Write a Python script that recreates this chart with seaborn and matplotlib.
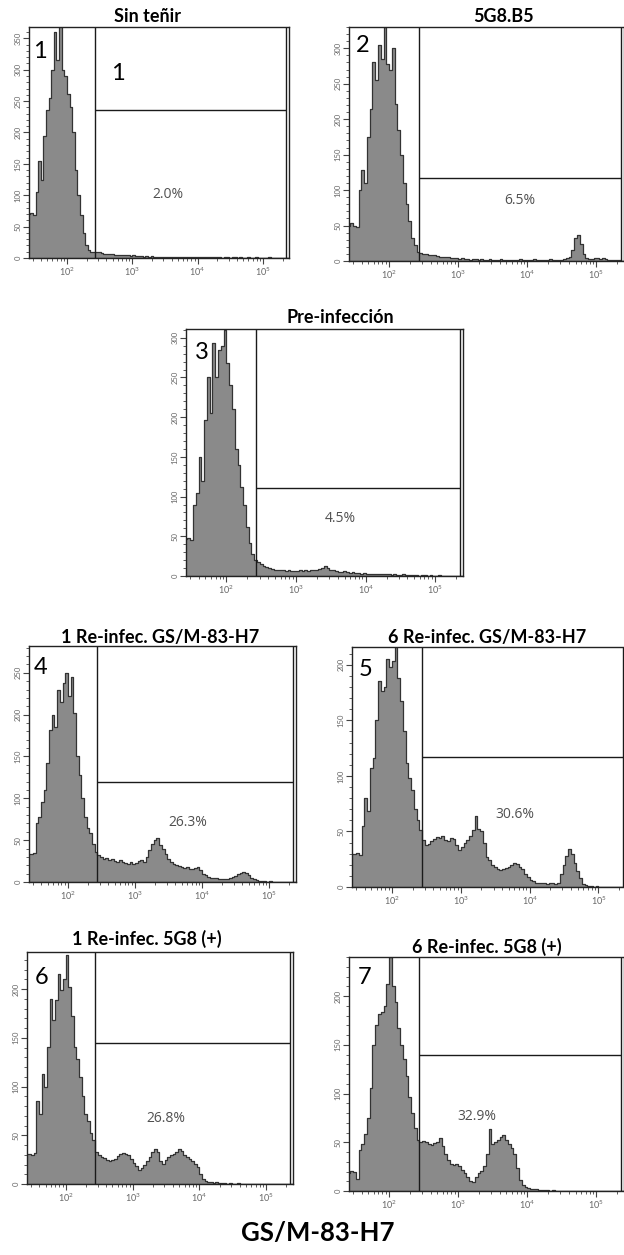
import numpy as np
import matplotlib
matplotlib.use('Agg')  # no display
import matplotlib.pyplot as plt
import matplotlib.ticker as mticker
import seaborn as sns

W, H = 624, 1255

# histogram grid on the log10 axis: 100 bins of 0.04 decade, 10^1.40 .. 10^5.40
BIN_START, BIN_WIDTH, N_BINS = 1.40, 0.04, 100
log_centers = BIN_START + BIN_WIDTH * (np.arange(N_BINS) + 0.5)

titles = ["Sin teñir", "5G8.B5", "Pre-infección",
          "1 Re-infec. GS/M-83-H7", "6 Re-infec. GS/M-83-H7",
          "1 Re-infec. 5G8 (+)", "6 Re-infec. 5G8 (+)"]
panel_numbers = ["1", "2", "3", "4", "5", "6", "7"]
percents = ["2.0%", "6.5%", "4.5%", "26.3%", "30.6%", "26.8%", "32.9%"]
y_max = [368, 330, 311, 282, 216, 238, 240]
gate_heights = [236, 117, 111, 120, 117, 145, 140]
gate_log = (2.43, 5.36)

# event counts per bin (rows of 10 bins = 0.4 decade)
counts_sin_tenir = [
    70, 72, 68, 105, 155, 125, 195, 235, 255, 300,
    360, 315, 372, 300, 290, 262, 240, 200, 140, 100,
    68, 40, 20, 13, 10, 9, 10, 9, 8, 7,
    7, 6, 6, 5, 5, 4, 5, 4, 4, 3,
    4, 3, 3, 3, 2, 3, 2, 3, 2, 2,
    2, 2, 2, 1, 2, 2, 1, 2, 1, 1,
    2, 1, 1, 1, 1, 1, 2, 1, 1, 1,
    1, 1, 1, 1, 0, 1, 1, 0, 1, 1,
    0, 1, 0, 0, 1, 0, 0, 1, 0, 0,
    0, 0, 1, 0, 0, 0, 0, 0, 0, 0]
counts_5g8b5 = [
    50, 53, 50, 48, 100, 128, 110, 175, 215, 280,
    255, 305, 285, 330, 278, 270, 300, 222, 185, 150,
    110, 80, 56, 33, 22, 13, 11, 10, 10, 9,
    9, 8, 7, 6, 6, 5, 5, 4, 4, 4,
    3, 4, 3, 3, 2, 3, 3, 2, 3, 2,
    2, 3, 2, 2, 2, 3, 2, 2, 2, 2,
    2, 2, 3, 2, 2, 2, 2, 3, 2, 2,
    2, 2, 2, 3, 2, 2, 2, 2, 3, 4,
    6, 16, 32, 36, 24, 10, 4, 3, 3, 4,
    4, 3, 4, 3, 2, 2, 1, 1, 1, 0]
counts_pre = [
    47, 48, 45, 90, 105, 150, 120, 196, 250, 205,
    294, 250, 285, 290, 310, 268, 240, 210, 160, 140,
    112, 90, 62, 42, 28, 20, 17, 15, 13, 11,
    10, 9, 8, 8, 7, 7, 6, 7, 6, 6,
    6, 7, 6, 7, 6, 7, 8, 8, 9, 10,
    12, 10, 8, 7, 6, 5, 5, 6, 5, 4,
    5, 4, 4, 3, 4, 3, 3, 2, 3, 2,
    2, 3, 2, 2, 1, 2, 1, 1, 2, 1,
    1, 1, 1, 1, 0, 1, 1, 0, 1, 0,
    0, 1, 0, 0, 0, 0, 0, 0, 0, 0]
counts_1_gsm = [
    34, 34, 35, 70, 78, 95, 110, 142, 182, 200,
    185, 230, 215, 238, 250, 222, 245, 202, 150, 128,
    100, 78, 65, 58, 46, 36, 32, 30, 28, 29,
    26, 27, 25, 24, 26, 24, 23, 22, 24, 22,
    23, 25, 26, 24, 30, 38, 45, 50, 52, 44,
    40, 34, 28, 24, 22, 20, 19, 18, 17, 18,
    16, 15, 17, 18, 14, 10, 8, 6, 5, 5,
    5, 4, 4, 4, 4, 5, 6, 7, 9, 11,
    12, 11, 8, 5, 3, 2, 1, 1, 1, 0,
    1, 0, 0, 0, 0, 0, 0, 0, 0, 0]
counts_6_gsm = [
    30, 30, 31, 29, 55, 80, 68, 107, 116, 150,
    185, 176, 180, 205, 198, 203, 216, 188, 167, 140,
    112, 98, 87, 70, 60, 51, 42, 38, 39, 41,
    43, 45, 44, 46, 42, 41, 44, 43, 38, 33,
    36, 40, 42, 46, 51, 64, 52, 50, 40, 27,
    24, 20, 18, 16, 15, 16, 17, 18, 20, 22,
    21, 18, 16, 12, 9, 6, 5, 4, 4, 4,
    4, 3, 4, 4, 3, 4, 12, 20, 28, 34,
    30, 22, 14, 8, 3, 2, 1, 1, 0, 1,
    0, 0, 0, 0, 0, 0, 0, 0, 0, 0]
counts_1_5g8 = [
    31, 31, 30, 32, 85, 72, 113, 100, 141, 190,
    168, 189, 215, 199, 210, 235, 202, 172, 141, 128,
    110, 90, 72, 65, 52, 45, 33, 30, 28, 27,
    25, 24, 25, 26, 29, 31, 32, 31, 30, 26,
    22, 18, 14, 16, 20, 24, 28, 33, 36, 33,
    24, 21, 25, 28, 30, 31, 33, 36, 34, 30,
    28, 26, 24, 21, 17, 10, 5, 3, 2, 2,
    1, 2, 1, 1, 1, 0, 1, 0, 0, 1,
    0, 0, 0, 0, 0, 0, 0, 0, 0, 0,
    0, 0, 0, 0, 0, 0, 0, 0, 0, 0]
counts_6_5g8 = [
    18, 20, 19, 12, 42, 48, 58, 75, 106, 150,
    170, 182, 184, 190, 212, 240, 210, 194, 167, 150,
    135, 118, 96, 80, 65, 52, 50, 51, 50, 48,
    47, 49, 50, 54, 46, 38, 32, 28, 27, 28,
    26, 22, 18, 14, 10, 9, 14, 18, 21, 26,
    38, 64, 48, 50, 52, 55, 57, 52, 48, 44,
    38, 24, 11, 6, 4, 3, 2, 2, 2, 1,
    1, 1, 1, 0, 1, 0, 0, 0, 0, 0,
    0, 0, 0, 0, 0, 0, 0, 0, 0, 0,
    0, 0, 0, 0, 0, 0, 0, 0, 0, 0]
all_counts = [counts_sin_tenir, counts_5g8b5, counts_pre, counts_1_gsm,
              counts_6_gsm, counts_1_5g8, counts_6_5g8]

# layout in pixels: left, top, right, bottom of each plot box
boxes = [(29, 27, 289, 258), (349, 27, 624, 261), (186, 329, 463, 576),
         (29, 646, 296, 882), (352, 647, 626, 887),
         (27, 952, 293, 1184), (349, 957, 624, 1191)]
title_pos = [(148, 16), (503, 17), (340, 318), (160, 638), (487, 638),
             (147, 939), (487, 947)]
number_pos = [(40, 52), (363, 45), (202, 353), (41, 668), (366, 670),
              (42, 978), (365, 977)]
percent_pos = [(168, 194), (520, 200), (340, 519), (188, 823), (515, 815),
               (166, 1118), (477, 1116)]


def px(x, y):
    return x / W, 1 - y / H


sns.set_style("ticks")
plt.rcParams['font.family'] = ['Lato', 'DejaVu Sans']

fig = plt.figure(figsize=(W / 100, H / 100), dpi=100)

for i in range(7):
    l, t, r, b = boxes[i]
    ax = fig.add_axes([l / W, 1 - b / H, (r - l) / W, (b - t) / H])
    sns.histplot(x=10 ** log_centers, weights=all_counts[i],
                 binwidth=BIN_WIDTH, binrange=(BIN_START, BIN_START + BIN_WIDTH * N_BINS),
                 log_scale=True, element="step", fill=True,
                 color="#8a8a8a", alpha=1, edgecolor="#333333", linewidth=0.9, ax=ax)
    ax.set_xlim(10 ** 1.42, 10 ** 5.40)
    ax.set_ylim(0, y_max[i])
    ax.set_xlabel("")
    ax.set_ylabel("")

    # gate bracket
    g0, g1 = 10 ** gate_log[0], 10 ** gate_log[1]
    ax.axvline(g0, color="#1a1a1a", lw=1)
    ax.axvline(g1, color="#1a1a1a", lw=1)
    ax.hlines(gate_heights[i], g0, g1, color="#1a1a1a", lw=1)

    ax.set_xticks([1e2, 1e3, 1e4, 1e5])
    ax.xaxis.set_minor_locator(mticker.LogLocator(base=10, subs=np.arange(2, 10)))
    ax.xaxis.set_minor_formatter(mticker.NullFormatter())
    ax.yaxis.set_major_locator(mticker.MultipleLocator(50))
    ax.yaxis.set_minor_locator(mticker.MultipleLocator(10))
    ax.tick_params(axis="x", which="major", length=4, width=0.8, color="#444444",
                   labelsize=6.5, labelcolor="#666666", pad=1.5)
    ax.tick_params(axis="y", which="major", length=4, width=0.8, color="#444444",
                   labelsize=5.5, labelcolor="#666666", pad=1.5)
    ax.tick_params(which="minor", length=2, width=0.6, color="#444444")
    for lab in ax.get_yticklabels():
        lab.set_rotation(90)
        lab.set_va("center")
    for s in ax.spines.values():
        s.set_visible(True)
        s.set_color("#222222")
        s.set_linewidth(1)

    fig.text(*px(*title_pos[i]), titles[i], ha="center", va="center",
             fontsize=13, fontweight="bold", color="black")
    fig.text(*px(*number_pos[i]), panel_numbers[i], ha="center", va="center",
             fontsize=17, color="black")
    fig.text(*px(*percent_pos[i]), percents[i], ha="center", va="center",
             fontsize=10, color="#505050", family=["Open Sans", "DejaVu Sans"])

# extra gate label in the first panel
fig.text(*px(118, 73), "1", ha="center", va="center", fontsize=17, color="black")

fig.text(*px(318, 1233), "GS/M-83-H7", ha="center", va="center",
         fontsize=18.5, fontweight="bold", color="black")

fig.savefig("out.png", dpi=100)
